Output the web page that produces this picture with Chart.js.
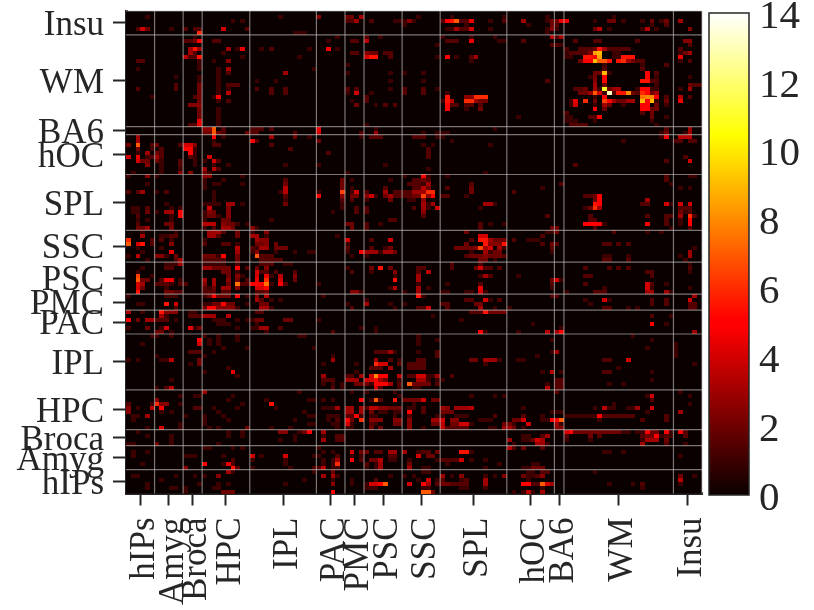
<!DOCTYPE html>
<html>
<head>
<meta charset="utf-8">
<style>
  html, body { margin: 0; padding: 0; background: #fff; }
  #wrap { position: relative; width: 814px; height: 610px; }
  #heatmap { position: absolute; left: 0; top: 0; }
  #colorbar { position: absolute; left: 700px; top: 0; }
</style>
<script src="https://cdn.jsdelivr.net/npm/chart.js@4"></script>
</head>
<body>
<div id="wrap">
  <canvas id="heatmap" width="814" height="610"></canvas>
  <canvas id="colorbar" width="114" height="610"></canvas>
</div>
<script>
// region names and how many cells each one has, same order on both axes ends
const xRegions = ['hIPs', 'Amyg', 'Broca', 'HPC', 'IPL', 'PAC', 'PMC', 'PSC', 'SSC', 'SPL', 'hOC', 'BA6', 'WM', 'Insu'];
const xSizes = [6, 6, 4, 10, 14, 6, 4, 8, 8, 14, 10, 2, 23, 6];
const yRegions = ['Insu', 'WM', 'BA6', 'hOC', 'SPL', 'SSC', 'PSC', 'PMC', 'PAC', 'IPL', 'HPC', 'Broca', 'Amyg', 'hIPs'];
const ySizes = [6, 23, 2, 10, 14, 8, 8, 4, 6, 14, 10, 4, 6, 6];
const colorTicks = [0, 2, 4, 6, 8, 10, 12, 14];

// each line: row from the top, then column,value pairs (empty cells are left out)
const insuCells = [
  [1, 4,1, 32,1, 40,2.5, 46,2, 47,2, 49,3, 61,1, 68,1, 79,1, 88,1, 102,1],
  [2, 22,1, 24,1, 46,1.5, 47,1.5, 48,3, 51,1.5, 56,1, 57,1, 58,1, 59,2.5, 60,1, 66,1.5, 67,5, 68,5.5, 69,7, 70,1.5, 71,1.5, 72,4.5, 76,1, 79,1.5, 83,3, 88,1, 89,2, 90,2, 91,4.5, 92,4.5, 98,1, 101,2, 102,2, 104,1, 108,1, 110,2, 112,1, 113,2, 116,3],
  [3, 58,1, 71,1, 84,1, 89,2, 90,1.5, 110,1, 113,1.5],
  [4, 2,1.5, 3,4, 4,2, 9,1, 12,1.5, 14,1.5, 15,1.5, 20,4, 25,1.5, 67,1, 68,1, 69,3, 70,1.5, 71,1.5, 72,4, 76,1, 88,1, 89,2.5, 90,1, 98,2, 99,3.5, 101,1, 108,1, 109,3.5, 111,1, 118,2.5],
  [5, 15,6, 35,1, 36,1, 37,1, 88,1]
];
const wmCells = [
  [6, 14,1, 44,1, 50,1.5, 53,1, 66,1, 72,1, 77,1, 89,3.5, 90,1.5, 91,3],
  [7, 12,1.5, 13,1.5, 14,2, 15,5, 18,1.5, 19,1.5, 42,1, 47,1.5, 48,1.5, 50,3.5, 67,1.5, 68,1.5, 69,1.5, 72,4.5, 78,1, 79,1, 83,1.5, 94,1.5, 98,1.5, 99,1.5, 107,1.5, 117,2.5, 118,2.5],
  [8, 65,1, 89,1.5, 90,1.5, 91,1, 118,1.5],
  [9, 13,3, 14,5.5, 15,3, 21,3, 23,1, 24,4.5, 28,1, 30,1.5, 38,1, 42,5, 44,1, 92,1.5, 95,1.5, 96,1.5, 97,1.5, 98,2, 99,5.5, 100,3, 101,1.5, 102,1.5, 103,1.5, 104,1.5, 105,1.5, 116,1.5],
  [10, 13,3, 14,1.5, 20,1, 47,1.5, 48,1.5, 50,2.5, 51,2, 52,2, 54,1.5, 55,1.5, 92,1, 93,1.5, 94,1.5, 95,1.5, 96,1.5, 97,2.5, 98,8.5, 99,9, 102,1, 103,1, 116,1, 117,2, 118,3],
  [11, 12,3.5, 13,1.5, 14,1.5, 15,5.5, 24,1, 36,1, 50,4, 51,5.5, 52,5.5, 55,1.5, 65,1, 67,5, 69,1, 72,1.5, 73,3, 92,1, 93,1, 96,5.5, 97,5.5, 98,5, 99,8.5, 102,1, 103,1, 104,5.5, 105,5.5, 106,5.5, 116,4.5],
  [12, 2,1.5, 3,1.5, 15,1, 18,1, 21,2.5, 72,1, 95,2, 96,5, 97,5, 98,9, 99,7, 100,7, 101,5.5, 103,5.5, 104,6, 105,3, 106,2, 107,1.5, 108,1.5, 116,1, 118,1.5],
  [13, 15,1, 46,1, 100,1, 108,1, 113,1.5],
  [14, 2,1, 15,1, 19,1, 21,3, 39,1, 100,1.5, 108,1.5],
  [15, 19,1, 21,1.5, 33,3, 46,1, 55,1, 58,1, 62,1, 98,2, 99,2, 100,9, 101,1, 109,5, 111,1.5],
  [16, 10,1, 15,1, 19,1, 97,1, 98,2, 100,5, 109,5, 111,1, 118,1],
  [17, 15,1, 19,1, 27,1, 31,1, 55,1, 62,1, 88,1.5, 98,2.5, 100,5, 108,5.5, 109,5.5, 110,1.5, 111,1.5],
  [18, 10,1.5, 15,2, 19,1, 21,1.5, 22,1.5, 23,1.5, 98,3, 100,2, 111,1, 118,2, 119,1.5, 120,1.5],
  [19, 2,1.5, 10,1.5, 15,2, 19,1, 21,1, 27,1.5, 30,1.5, 33,1.5, 46,1.5, 48,1.5, 55,1, 58,1.5, 62,1.5, 65,1, 94,1.5, 95,1.5, 96,2, 98,3, 99,1, 100,11, 101,2, 102,3, 103,3, 107,1, 108,5, 109,5, 110,1, 111,1, 116,1, 118,3],
  [20, 15,2, 19,1, 21,3.5, 30,1.5, 33,1.5, 46,1, 48,4, 51,1, 58,1.5, 62,1.5, 67,1, 95,2, 96,2, 97,3, 98,7, 99,4, 100,1, 101,13, 102,1.5, 103,5.5, 104,5.5, 105,8, 106,2, 107,1.5, 108,6, 109,5, 110,2, 111,3],
  [21, 5,1, 14,1.5, 15,2, 18,1, 19,5, 50,1.5, 67,5.5, 71,2.5, 72,2.5, 73,6, 74,6, 75,6, 98,1, 100,5, 108,7.5, 109,8, 110,8, 111,5, 113,1.5, 116,3.5, 118,1.5],
  [22, 15,2, 19,1, 21,1.5, 47,1, 50,1.5, 66,1, 67,5.5, 68,3.5, 71,6, 72,6, 73,3, 74,2, 75,2, 93,1, 94,4.5, 96,6, 98,2, 100,6.5, 101,5, 102,3, 103,2, 104,2, 105,3, 106,3, 108,9, 109,5, 110,9, 111,1, 113,2, 116,4.5],
  [23, 13,2.5, 14,2.5, 15,2.5, 48,2, 52,1, 54,1.5, 56,1.5, 67,5, 68,1.5, 69,1.5, 71,1.5, 72,1.5, 74,1.5, 93,1, 94,4, 98,1, 100,3, 101,2, 104,1, 108,5, 109,5, 111,2, 113,1],
  [24, 15,2, 19,1, 67,5, 71,1, 74,2, 98,5, 100,2, 108,5, 109,5, 110,2, 111,2],
  [25, 15,2, 19,1, 92,1.5, 108,1.5, 110,2],
  [26, 15,2, 19,1, 82,1, 92,1, 93,1, 97,1.5, 98,1.5, 99,5, 110,2, 113,1],
  [27, 15,4.5, 19,1, 92,1, 93,1, 94,1, 98,1, 110,1],
  [28, 13,1.5, 14,1.5, 15,4.5, 19,1, 50,1, 93,1.5, 94,1.5, 95,1.5, 96,1.5, 111,1]
];
const ba6Cells = [
  [29, 16,2.5, 17,2.5, 18,7, 20,1.5, 26,1.5, 27,1.5, 28,1.5, 30,1.5, 40,4.5, 52,1, 77,1, 113,1.5, 118,3],
  [30, 16,2, 17,2, 18,7, 19,2, 20,1.5, 25,2, 26,1.5, 27,1.5, 35,1.5, 40,4, 49,1.5, 52,3, 62,1, 65,1, 66,1, 67,1, 112,1, 113,2, 117,1, 118,3]
];
const hocCells = [
  [31, 2,3, 18,5, 20,1, 30,3, 35,2, 38,1, 49,1, 51,1.5, 52,1.5, 53,1.5, 60,1.5, 61,1.5, 62,1.5, 65,1, 66,1, 112,1, 113,5, 116,3.5, 117,3.5, 118,3.5],
  [32, 2,3, 18,1, 26,5, 27,1.5, 40,2, 68,1, 104,1, 115,1.5, 116,1.5, 118,1.5, 119,1.5],
  [33, 0,2, 2,7, 5,1.5, 6,2, 11,1.5, 12,4, 13,4, 14,2.5, 18,1.5, 19,1.5, 30,1.5, 62,1, 64,1, 76,1],
  [34, 2,2, 5,1, 7,1.5, 12,5, 13,5, 14,1, 34,1.5, 63,1.5],
  [35, 2,1, 4,3, 6,2, 7,1.5, 13,5, 14,1, 42,1.5, 63,1.5],
  [36, 0,4, 2,4.5, 4,1, 5,1.5, 6,3, 7,1.5, 13,1.5, 14,1, 17,4, 63,1.5, 117,1.5],
  [37, 2,4, 3,2, 4,2, 6,2, 7,1, 11,1.5, 14,1, 16,1, 18,4, 19,1.5, 113,1.5, 118,4],
  [38, 4,2.5, 7,1, 11,1.5, 14,1, 18,1, 21,1, 33,1, 40,1, 54,1, 94,1.5],
  [39, 7,1, 11,1, 16,3, 18,3.5, 19,1.5, 63,1],
  [40, 1,1, 7,1, 11,2.5, 13,2.5, 16,2, 17,1, 46,1, 75,1]
];
const splCells = [
  [41, 0,1, 4,2.5, 6,1, 16,2.5, 17,2.5, 24,1, 58,1, 62,5, 63,1, 67,1, 113,1.5, 118,1, 119,1],
  [42, 16,1, 20,1, 33,1.5, 45,2, 47,1, 55,1, 60,1.5, 61,1.5, 62,2, 63,1.5, 113,1.5],
  [43, 4,1, 16,1, 18,1, 19,1, 24,1, 33,2, 45,2, 59,1.5, 60,1.5, 61,1.5, 62,1, 63,3, 72,1.5, 91,1.5, 114,1],
  [44, 16,1, 33,3.5, 45,2, 47,1, 54,1.5, 60,1.5, 61,1.5, 62,3.5, 63,2, 67,1.5, 72,2, 87,1, 116,1, 118,1],
  [45, 0,1.5, 2,1.5, 3,3, 6,1, 8,1.5, 18,1, 32,1, 33,3.5, 40,1, 45,6.5, 47,1, 48,4, 50,1.5, 54,3, 56,1.5, 57,1.5, 58,1.5, 59,1.5, 60,3, 61,3, 62,3, 63,6, 64,6, 72,2, 81,1.5],
  [46, 18,1, 33,1.5, 40,5, 45,2.5, 47,2, 48,2, 50,2.5, 51,4, 52,1, 54,2, 55,3, 56,1.5, 57,1.5, 58,1.5, 59,1.5, 60,2, 61,2, 62,6.5, 63,2.5, 64,5, 66,1.5, 67,1.5, 71,1, 96,1.5, 97,1.5, 98,2, 99,5],
  [47, 18,1, 33,1, 45,1.5, 47,1.5, 50,1, 55,2, 59,1, 60,1, 62,2.5, 98,2, 99,5, 109,3],
  [48, 8,1, 16,1, 17,1, 18,1, 19,1, 21,3, 22,3, 24,1, 33,2, 45,1, 62,3, 63,1, 64,3, 75,3, 76,3, 77,1, 98,5.5, 99,5, 108,1.5, 109,1.5, 113,4, 114,1, 116,4, 118,4],
  [49, 1,1, 2,1, 4,1.5, 9,1, 11,1, 17,4, 21,2.5, 45,1, 48,1.5, 50,1.5, 60,1.5, 62,3, 63,1, 65,4, 74,1, 96,1, 97,2, 98,6, 99,3, 116,1.5, 117,1.5, 118,1.5],
  [50, 1,1, 2,1, 4,2, 6,1, 8,3, 9,3, 11,5, 16,1, 17,2.5, 18,2, 21,2.5, 43,1, 48,1.5, 50,1.5, 62,2.5, 116,2, 117,1, 118,1.5],
  [51, 2,1.5, 9,1, 11,5, 16,1, 17,2, 18,2, 19,1, 21,2.5, 62,1.5, 88,1.5, 97,1.5, 109,1.5, 113,1.5, 114,1.5, 116,3, 118,6, 119,1.5],
  [52, 2,1, 4,1, 9,1, 16,1, 20,2, 21,2, 30,1, 55,1.5, 56,1.5, 97,1.5, 98,1.5, 113,1.5, 116,1, 118,5],
  [53, 2,1.5, 8,2, 9,2, 16,3.5, 17,3.5, 18,3.5, 20,2.5, 21,2, 22,2, 23,1, 25,1, 46,2, 47,2, 50,1.5, 53,1, 74,1.5, 76,1, 79,1, 96,5, 97,5, 98,5, 99,5, 100,1, 109,5, 113,1.5, 116,1, 118,5],
  [54, 2,2, 3,2, 4,3, 9,2, 16,1, 18,1.5, 20,3, 21,3, 22,2, 26,2.5, 27,1, 47,2, 50,1.5, 74,1.5, 89,2, 90,2, 98,1.5, 114,1, 118,1.5]
];
const sscCells = [
  [55, 3,1, 10,1, 17,3, 18,3, 19,3, 20,1.5, 23,2, 26,1, 29,2.5, 71,2, 88,1, 89,1, 90,2, 102,1.5, 109,1, 112,1],
  [56, 3,3, 7,1, 8,1, 9,1.5, 10,1.5, 17,3, 18,3, 19,1.5, 23,2, 26,3, 27,3, 29,1, 44,1, 74,4, 75,4, 87,1.5],
  [57, 0,6, 5,1.5, 7,1.5, 9,1, 16,1, 27,3, 28,2.5, 29,2.5, 46,4, 51,1.5, 55,4, 72,1.5, 74,5.5, 75,5.5, 76,3, 77,2, 78,2, 79,2, 81,1.5, 84,1, 85,1, 86,1],
  [58, 0,7, 2,4, 3,5.5, 5,1.5, 9,2.5, 16,1.5, 20,1.5, 21,1.5, 23,1, 27,2, 28,2, 29,2.5, 31,2, 46,1, 71,2, 75,5.5, 76,2.5, 77,2.5, 78,2.5, 79,5.5, 87,1.5, 89,2, 90,1.5, 100,1.5, 101,1.5, 103,1.5, 105,1.5],
  [59, 2,1, 7,1, 23,3.5, 26,1.5, 27,1, 28,3, 29,3, 31,2, 32,2, 33,2, 46,1.5, 51,1.5, 54,1, 55,2, 69,2, 70,2, 71,2, 72,2, 73,2.5, 74,6.5, 75,3, 76,4, 78,3, 79,1, 89,1.5, 119,1],
  [60, 3,1, 9,4.5, 23,3, 26,1, 27,2.5, 31,1, 35,1, 38,1, 39,1, 46,1, 49,5, 50,3, 51,3, 52,3, 53,1, 54,3, 55,3, 56,2, 72,1, 75,3, 76,1, 77,2, 78,2, 89,1, 118,3],
  [61, 0,1, 2,3.5, 6,2.5, 7,2.5, 8,1, 10,2, 16,2, 17,2, 18,2, 19,1, 20,5, 23,2, 27,7, 28,1.5, 29,1.5, 30,1.5, 47,1, 50,1, 71,1.5, 72,2, 73,2, 74,2, 75,2.5, 76,2, 77,2, 78,2, 79,1.5, 100,1, 101,1, 105,1, 116,1, 118,3],
  [62, 4,1, 10,1.5, 11,3, 16,1.5, 17,1.5, 18,1.5, 19,1.5, 20,1.5, 23,2, 28,1.5, 29,1.5, 30,1.5, 31,1.5, 32,1.5, 74,2, 75,2, 77,1, 100,1.5, 101,1.5, 105,1.5, 117,1]
];
const pscCells = [
  [63, 8,1, 9,1, 10,1, 11,3, 16,1, 17,1, 18,1, 19,1, 20,1, 23,1.5, 28,1.5, 29,1.5, 30,1.5, 33,1, 34,1, 68,1.5, 74,1.5, 118,1],
  [64, 3,1, 8,1.5, 9,1.5, 16,3, 17,3, 18,2, 19,2, 20,2, 21,2, 23,5, 25,1.5, 27,2, 29,2.5, 46,1, 51,2, 53,5.5, 55,2, 61,1.5, 62,1.5, 68,1.5, 73,2, 74,4, 75,1.5, 76,1.5, 78,1.5, 96,1.5, 101,1.5, 103,1.5, 105,1.5, 118,1.5],
  [65, 2,1, 20,2, 21,2, 23,1, 27,4, 28,1.5, 29,1.5, 31,1.5, 35,1.5, 47,1.5, 51,1, 56,2.5, 61,1.5, 63,3.5, 109,1.5, 110,1.5, 118,1],
  [66, 2,6.5, 5,1, 21,2, 23,2.5, 24,1, 27,4, 29,4.5, 30,1, 32,3.5, 35,2.5, 56,1, 61,3, 74,1, 75,3, 76,1.5, 82,1, 96,1.5, 97,1.5, 110,1.5],
  [67, 2,7, 3,2, 4,2, 7,1.5, 8,4.5, 9,4.5, 11,1, 16,3, 18,3, 21,2.5, 23,2, 25,1.5, 27,4.5, 29,6, 32,4, 35,2, 56,5.5, 61,3, 89,2, 90,4, 91,1],
  [68, 2,4, 3,3, 6,1.5, 7,1.5, 8,1.5, 9,1, 11,1.5, 12,1.5, 16,2.5, 18,3, 21,2, 23,7.5, 24,1.5, 25,1.5, 26,5, 27,5, 28,5, 29,7.5, 30,1, 32,5, 33,1.5, 40,1, 61,1, 67,1, 74,1.5, 89,1.5, 96,1.5, 109,4, 110,1.5, 113,1],
  [69, 2,4, 3,2, 8,1, 16,1.5, 17,1, 18,2, 20,3, 21,3, 23,2.5, 27,4, 28,4, 29,5, 55,1, 56,3.5, 61,3, 63,1, 74,4.5, 89,1, 100,1, 109,4, 110,1, 118,1],
  [70, 2,5.5, 8,2, 9,2, 10,1.5, 11,1.5, 16,1.5, 17,1.5, 18,1.5, 20,1.5, 21,1.5, 27,1.5, 28,1.5, 29,2, 47,2.5, 48,2.5, 49,1, 58,1, 61,3, 66,1, 67,1, 71,1, 72,1, 74,4, 75,1, 92,1, 98,1.5, 99,1.5, 100,1.5, 109,3, 110,3, 113,3, 114,1]
];
const pmcCells = [
  [71, 0,1, 8,1, 9,1, 10,1, 16,1, 17,2, 18,5, 19,2, 20,2, 21,2, 23,5, 25,1, 27,2.5, 29,3.5, 41,1, 61,5.5, 62,1, 89,1.5, 90,1.5, 119,3],
  [72, 27,3, 28,1.5, 30,1, 32,1, 50,1, 71,1.5, 72,1.5, 75,4, 76,1, 78,1.5, 96,1, 100,4, 101,1, 110,1.5, 113,1.5, 118,4],
  [73, 2,1, 3,1, 8,5.5, 10,4, 16,1, 17,1, 18,2, 19,2, 20,5, 21,2, 22,2, 25,1, 28,2, 29,2, 46,1, 50,3, 55,1, 58,1, 66,1.5, 67,1.5, 73,2, 74,2, 97,1, 110,1.5, 113,1.5, 118,1.5, 119,1.5],
  [74, 10,1.5, 16,2, 17,5, 18,5, 19,2.5, 20,2.5, 21,2.5, 22,2.5, 23,1, 28,3, 29,3, 30,1, 47,1.5, 56,1, 61,1.5, 62,1.5, 63,4, 67,1.5, 74,3, 77,1, 80,1, 100,1.5, 101,1.5, 105,1, 107,1, 118,1.5, 119,1.5]
];
const pacCells = [
  [75, 0,3, 3,1, 7,5.5, 8,2.5, 9,2.5, 10,2.5, 13,1, 14,1, 27,1.5, 28,1.5, 72,1.5, 73,1.5, 74,1.5, 75,5.5, 76,2, 77,2, 78,2, 79,2],
  [76, 7,3, 8,1, 13,1.5, 14,1.5, 15,1.5, 16,3, 17,3, 18,3, 21,3.5, 64,1, 110,1.5, 114,1],
  [77, 0,5, 2,2, 4,3, 5,3, 6,1.5, 7,1.5, 8,1.5, 10,1, 18,1, 19,1, 20,1, 23,1, 25,1, 26,1, 27,2, 28,2, 33,2, 34,2, 40,1, 70,1],
  [78, 19,1, 20,1, 21,1, 27,1, 85,1, 110,5, 113,1],
  [79, 0,1, 4,2, 7,1, 8,4, 13,4.5, 14,1, 15,2, 23,1, 26,1, 27,1, 28,3, 29,3, 32,1.5, 49,1, 52,1, 91,1],
  [80, 6,2, 7,2, 9,1, 29,1, 43,1.5, 52,1, 74,5, 75,1, 82,1, 88,3.5, 90,3, 91,5, 119,3]
];
const iplCells = [
  [81, 5,1, 6,1, 9,1, 16,1, 19,1, 23,1, 36,1, 37,1, 61,1, 106,1],
  [82, 15,5, 17,1, 19,1, 23,1, 61,1, 65,1, 89,1, 110,1],
  [83, 3,1, 15,4, 17,1, 19,1, 61,1, 115,1],
  [84, 20,1, 25,1, 39,1, 109,1, 115,1],
  [85, 13,1.5, 14,1.5, 15,1.5, 18,1, 52,1.5, 53,1.5, 54,1.5, 55,3, 56,1, 61,1, 65,1.5, 89,1, 90,3, 115,1],
  [86, 6,1, 16,1, 43,1, 65,1.5, 86,1, 115,1],
  [87, 0,1, 2,1, 7,1, 8,1, 9,3.5, 15,2, 43,3, 52,3, 55,1.5, 57,1, 61,1.5, 62,1.5, 72,2, 73,2, 75,3, 76,3, 77,3, 78,1, 82,1, 83,1, 100,1.5, 101,1.5, 105,4],
  [88, 13,1, 15,2, 41,1, 48,1, 52,6, 53,4, 54,4, 57,1.5, 59,1.5, 60,1.5, 61,1.5, 62,1.5, 75,1, 119,1],
  [89, 21,1, 51,1.5, 52,1.5, 53,1.5, 55,3, 59,1.5, 60,1.5, 61,1.5, 62,1.5, 103,1],
  [90, 16,1, 22,4.5, 48,1, 87,1, 89,3.5, 91,1, 100,1.5, 101,1.5, 110,1],
  [91, 23,1, 41,3, 46,1.5, 47,1.5, 49,3, 51,4, 52,8, 53,5, 54,5, 57,3.5, 59,1.5, 60,1.5, 61,4, 62,4, 63,1, 64,1, 65,3, 68,1.5],
  [92, 9,1, 41,1.5, 42,1.5, 43,1.5, 46,3, 47,3, 48,3, 50,4, 51,4, 52,5, 53,3, 54,2, 57,1, 61,3, 62,3, 63,1, 65,1, 66,1, 90,1.5, 91,1.5, 110,1],
  [93, 41,1, 43,1, 45,1, 48,2, 49,2, 50,2, 51,1, 52,5, 53,5, 54,5, 55,3, 57,1.5, 59,7, 60,2, 61,2, 62,2, 63,2, 65,1.5, 88,1, 90,1.5, 91,1.5, 101,1, 104,1],
  [94, 6,1, 8,1.5, 9,3.5, 43,1.5, 45,1, 52,4, 53,1.5, 57,1, 60,1, 61,1, 88,3.5, 90,1.5, 91,1.5]
];
const hpcCells = [
  [95, 16,3, 36,1, 47,1, 50,1, 56,1, 90,1.5, 116,1],
  [96, 11,1, 14,1, 15,1, 22,1, 57,1, 72,1, 77,1, 79,1, 109,1, 110,4, 118,1],
  [97, 6,2.5, 21,1, 29,1, 38,1, 39,1, 41,1, 43,1, 49,5, 51,1, 52,7, 53,1.5, 56,5.5, 58,2, 59,2, 60,2, 61,2, 62,4, 64,2, 65,2, 110,1.5],
  [98, 0,1.5, 5,1, 6,6, 7,2.5, 8,2.5, 11,1, 24,1, 30,5.5, 60,1, 102,1, 118,1],
  [99, 0,2.5, 2,1, 5,3.5, 7,5, 14,1.5, 15,1.5, 18,1, 23,1, 31,1, 41,1, 42,1, 43,1, 44,3, 46,3, 47,3, 49,3, 50,1.5, 51,3.5, 52,3.5, 53,2.5, 54,2.5, 55,2, 56,2, 57,2, 59,1, 60,1, 62,1.5, 66,3, 67,2.5, 69,3, 70,3, 71,3, 72,3.5, 83,1, 98,1, 100,3.5, 101,1, 102,1, 105,1, 106,1, 107,3, 110,4],
  [100, 0,2.5, 7,1, 9,1, 19,1, 37,1, 46,3, 47,3, 49,3, 51,2, 53,1, 54,1, 56,1, 57,1, 59,5, 62,1.5, 66,2, 67,2, 68,2, 89,1, 90,1, 91,1, 109,1, 116,3],
  [101, 1,1, 2,1, 4,3, 12,1, 16,1, 20,1, 38,1, 39,1, 42,1, 43,1, 44,1, 46,1.5, 47,1.5, 48,5, 49,1, 51,1, 52,1, 56,1, 59,1.5, 65,1, 66,1, 69,1, 70,1, 71,1, 77,1.5, 83,1.5, 87,1, 92,1, 93,1, 94,1, 95,1, 96,1, 97,1, 98,1, 99,5, 100,1.5, 101,1.5, 102,1.5, 103,1.5, 104,1.5, 105,1.5, 106,1.5, 113,1.5],
  [102, 1,1, 16,1, 21,1, 35,1, 42,1, 44,1.5, 46,5, 47,2, 49,6, 51,2.5, 52,2.5, 53,2.5, 56,2.5, 57,2.5, 59,2.5, 64,3, 65,3, 66,4, 68,2.5, 69,2.5, 74,1, 75,1, 76,1, 81,2, 82,2, 83,4, 87,1, 88,1, 89,5, 90,5, 91,7, 99,1, 108,1.5, 113,1.5],
  [103, 11,1, 16,1, 38,1, 39,1, 43,1, 44,1, 46,4, 47,1, 51,1.5, 52,1, 56,2, 57,2, 59,2.5, 64,2, 65,2, 66,3.5, 68,2, 69,2, 70,4, 71,4, 72,1, 79,2, 80,2, 81,1, 84,4, 90,3, 91,1],
  [104, 4,1, 7,4, 11,1, 17,1, 19,1, 25,2, 30,1, 34,1, 44,1, 46,1, 47,1, 51,2, 53,2, 59,2.5, 62,1, 66,3.5, 67,1.5, 68,1.5, 69,1.5, 70,1.5, 71,1.5, 76,1, 77,1, 79,3, 80,3, 81,2, 83,1, 90,2.5, 91,2.5]
];
const brocaCells = [
  [105, 2,1, 21,1, 24,1, 32,2.5, 33,2.5, 36,1, 37,2, 38,5, 41,3, 92,4, 93,5, 94,2, 95,2, 96,2, 97,2, 98,2, 99,2, 100,2, 101,2, 102,2, 103,2, 104,1, 105,1, 107,1, 108,1, 109,5, 110,2, 111,2, 113,5, 114,1, 116,5, 117,1.5],
  [106, 4,1, 9,1, 21,1, 24,1, 35,1, 41,1, 44,1.5, 45,1.5, 83,1, 84,1, 87,1.5, 88,3, 92,1.5, 97,2, 99,1.5, 108,1.5, 109,2, 110,2, 111,5, 112,1, 113,1.5, 114,1, 117,1.5],
  [107, 9,1, 32,1, 35,1, 41,3, 44,1.5, 45,1.5, 80,3, 83,1, 84,1, 85,2, 86,4, 87,3, 92,1, 97,1, 108,1, 109,3, 110,3, 111,3, 113,2],
  [108, 0,1, 1,1, 6,2, 9,1, 19,1, 81,1, 86,3, 87,3, 88,1, 108,3, 113,1.5, 117,1]
];
const amygCells = [
  [109, 16,1, 17,1, 22,1, 24,1, 40,1, 80,3.5, 81,1.5, 83,2, 87,1.5],
  [110, 1,1, 4,1, 41,1, 43,1, 47,4, 49,2, 50,2, 52,1.5, 53,1.5, 55,3, 56,3, 58,3, 61,1, 62,1.5, 63,1.5, 65,2, 70,5.5, 71,5.5, 72,1, 100,1, 101,1, 104,1],
  [111, 1,1, 12,1, 13,1, 14,1, 20,1, 26,4, 28,1, 33,4, 39,1, 40,1, 44,1.5, 47,1, 49,1, 55,1.5, 56,1.5, 61,4, 63,2, 64,2, 116,1],
  [112, 22,1.5, 26,1, 33,1, 41,1, 43,1, 44,3, 47,5, 49,1.5, 51,2, 52,2, 53,3.5, 55,1, 56,1, 59,1, 65,1, 66,1.5, 67,1.5, 68,1.5, 69,1.5, 70,4, 72,1, 75,1],
  [113, 3,1, 16,5, 20,1, 21,4.5, 22,1.5, 33,1, 41,1, 43,1, 44,6, 50,1.5, 52,1, 53,3, 59,2, 67,1, 78,1, 85,1, 86,1],
  [114, 12,2.5, 22,5.5, 23,1.5, 26,1, 34,1, 39,1.5, 40,1.5, 41,3.5, 43,1, 44,1, 50,1, 52,1, 53,3, 59,3, 62,1, 63,1, 75,1, 83,1, 84,1, 85,2, 86,2, 87,2]
];
const hipsCells = [
  [115, 21,3, 22,1, 39,1, 43,2, 62,1, 63,1, 84,1, 85,1, 87,1.5, 88,1.5, 98,1],
  [116, 1,1, 2,1, 10,1, 14,1, 16,1, 19,2.5, 41,3, 43,3, 44,1, 55,1, 58,1, 60,1, 66,3, 68,1, 70,2.5, 75,1, 77,1, 79,2.5, 83,2, 84,1, 85,1, 86,1.5, 87,2.5, 116,2, 119,1],
  [117, 7,1, 37,1, 43,1, 47,1, 52,1.5, 61,1, 63,4, 65,1, 66,1.5, 70,1, 71,1.5, 75,3, 84,1, 116,3.5],
  [118, 4,1, 15,1, 19,1, 21,1, 33,1, 43,2.5, 47,1, 50,1, 51,4, 52,4, 53,5, 54,7, 59,4, 62,5, 63,3, 65,1.5, 66,2, 67,2, 68,1.5, 69,1.5, 70,1.5, 71,1.5, 75,3, 83,5, 84,5, 85,1.5, 86,1.5, 87,7, 88,4, 89,3, 101,1, 106,1, 108,1.5, 116,1],
  [119, 4,1, 9,1, 10,1, 12,1, 18,1, 19,1, 50,1, 51,1, 52,1, 62,1, 63,1, 70,1, 71,1, 75,1, 87,1, 108,1],
  [120, 12,1, 20,2, 21,2, 22,2, 43,5, 62,7, 63,7, 64,2, 81,1, 83,1, 84,3.5, 85,1, 87,3]
];

const gridSize = 121;
const vmax = 14;
const inkColor = '#262626';
const labelFont = { family: '"Liberation Serif", serif', size: 35 };

// matplotlib "hot" colormap
function hot(v) {
    const t = Math.min(Math.max(v / vmax, 0), 1);
    const r = Math.min(1, 0.0416 + t / 0.365);
    const g = Math.min(1, Math.max(0, (t - 0.365) / 0.381));
    const b = Math.min(1, Math.max(0, (t - 0.746) / 0.254));
    return `rgb(${Math.round(r * 255)},${Math.round(g * 255)},${Math.round(b * 255)})`;
}

// running edges and centres of the regions
function edgesOf(sizes) {
    const edges = [0];
    sizes.forEach(n => edges.push(edges[edges.length - 1] + n));
    return edges;
}
function centresOf(sizes) {
    const edges = edgesOf(sizes);
    return sizes.map((n, i) => edges[i] + n / 2);
}

// Chart.js keeps room for half a tick label at the axis ends, we want the plot edge exact
function noScalePadding(scale) {
    scale.paddingTop = 0;
    scale.paddingBottom = 0;
    scale.paddingLeft = 0;
    scale.paddingRight = 0;
}

const allRows = [insuCells, wmCells, ba6Cells, hocCells, splCells, sscCells, pscCells, pmcCells, pacCells, iplCells, hpcCells, brocaCells, amygCells, hipsCells].flat();
const cellPoints = [];
allRows.forEach(line => {
    for (let i = 1; i < line.length; i += 2) {
        cellPoints.push({ x: line[i] + 0.5, y: line[0] + 0.5, v: line[i + 1] });
    }
});

// fills the cells through the scales, the dataset's own points stay hidden
const cellPlugin = {
    id: 'cells',
    beforeDatasetsDraw(chart) {
        const { ctx, chartArea: area, scales: { x, y } } = chart;
        ctx.save();
        ctx.fillStyle = hot(0);
        ctx.fillRect(area.left, area.top, area.right - area.left, area.bottom - area.top);
        chart.data.datasets[0].data.forEach(p => {
            const left = Math.round(x.getPixelForValue(p.x - 0.5));
            const right = Math.round(x.getPixelForValue(p.x + 0.5));
            const top = Math.round(y.getPixelForValue(p.y - 0.5));
            const bottom = Math.round(y.getPixelForValue(p.y + 0.5));
            ctx.fillStyle = hot(p.v);
            ctx.fillRect(left, top, right - left, bottom - top);
        });
        // region separators
        ctx.strokeStyle = 'rgba(190,190,190,0.62)';
        ctx.lineWidth = 1.2;
        edgesOf(xSizes).slice(1).forEach(e => {
            const px = x.getPixelForValue(e);
            ctx.beginPath();
            ctx.moveTo(px, area.top);
            ctx.lineTo(px, area.bottom);
            ctx.stroke();
        });
        edgesOf(ySizes).slice(0, -1).forEach(e => {
            const py = y.getPixelForValue(e);
            ctx.beginPath();
            ctx.moveTo(area.left, py);
            ctx.lineTo(area.right, py);
            ctx.stroke();
        });
        ctx.restore();
    }
};

new Chart(document.getElementById('heatmap'), {
    type: 'scatter',
    data: { datasets: [{ data: cellPoints, pointRadius: 0, pointHoverRadius: 0 }] },
    plugins: [cellPlugin],
    options: {
        responsive: false,
        animation: false,
        layout: { padding: { top: 11, right: 112, left: 0, bottom: 0 } },
        plugins: { legend: { display: false }, tooltip: { enabled: false } },
        scales: {
            x: {
                type: 'linear', min: 0, max: gridSize,
                afterBuildTicks(scale) { scale.ticks = centresOf(xSizes).map(v => ({ value: v })); },
                afterFit(scale) { scale.height = 116.5; noScalePadding(scale); },
                grid: { drawOnChartArea: false, drawTicks: true, tickLength: 12, tickColor: inkColor, tickWidth: 2 },
                border: { display: true, color: inkColor, width: 3 },
                ticks: {
                    autoSkip: false, minRotation: 90, maxRotation: 90, padding: 12, labelOffset: 4.5, color: inkColor, font: labelFont,
                    callback(value, index) { return xRegions[index]; }
                }
            },
            y: {
                type: 'linear', reverse: true, min: 0, max: gridSize,
                afterBuildTicks(scale) { scale.ticks = centresOf(ySizes).map(v => ({ value: v })); },
                afterFit(scale) { scale.width = 126; noScalePadding(scale); },
                grid: { drawOnChartArea: false, drawTicks: true, tickLength: 13, tickColor: inkColor, tickWidth: 2 },
                border: { display: true, color: inkColor, width: 3 },
                ticks: {
                    autoSkip: false, padding: 9, labelOffset: 3, color: inkColor, font: labelFont,
                    callback(value, index) { return yRegions[index]; }
                }
            }
        }
    }
});

// colour bar: one thin band per pixel of the value axis
const barPlugin = {
    id: 'bar',
    beforeDatasetsDraw(chart) {
        const { ctx, chartArea: area, scales: { y } } = chart;
        ctx.save();
        for (let py = Math.floor(area.top); py < area.bottom; py++) {
            ctx.fillStyle = hot(y.getValueForPixel(py + 0.5));
            ctx.fillRect(area.left, py, area.right - area.left, 1);
        }
        ctx.strokeStyle = inkColor;
        ctx.lineWidth = 1.5;
        ctx.strokeRect(area.left, area.top, area.right - area.left, area.bottom - area.top);
        ctx.restore();
    }
};

new Chart(document.getElementById('colorbar'), {
    type: 'scatter',
    data: { datasets: [{ data: colorTicks.map(v => ({ x: 0, y: v })), pointRadius: 0, pointHoverRadius: 0 }] },
    plugins: [barPlugin],
    options: {
        responsive: false,
        animation: false,
        layout: { padding: { top: 13, left: 9, right: 0, bottom: 115 } },
        plugins: { legend: { display: false }, tooltip: { enabled: false } },
        scales: {
            x: { display: false, min: 0, max: 1 },
            y: {
                position: 'right', min: 0, max: vmax,
                afterBuildTicks(scale) { scale.ticks = colorTicks.map(v => ({ value: v })); },
                afterFit(scale) { scale.width = 65; noScalePadding(scale); },
                grid: { drawOnChartArea: false, drawTicks: false },
                border: { display: false },
                ticks: { autoSkip: false, padding: 10, labelOffset: 4, color: inkColor, font: { family: labelFont.family, size: 41 } }
            }
        }
    }
});
</script>
</body>
</html>
